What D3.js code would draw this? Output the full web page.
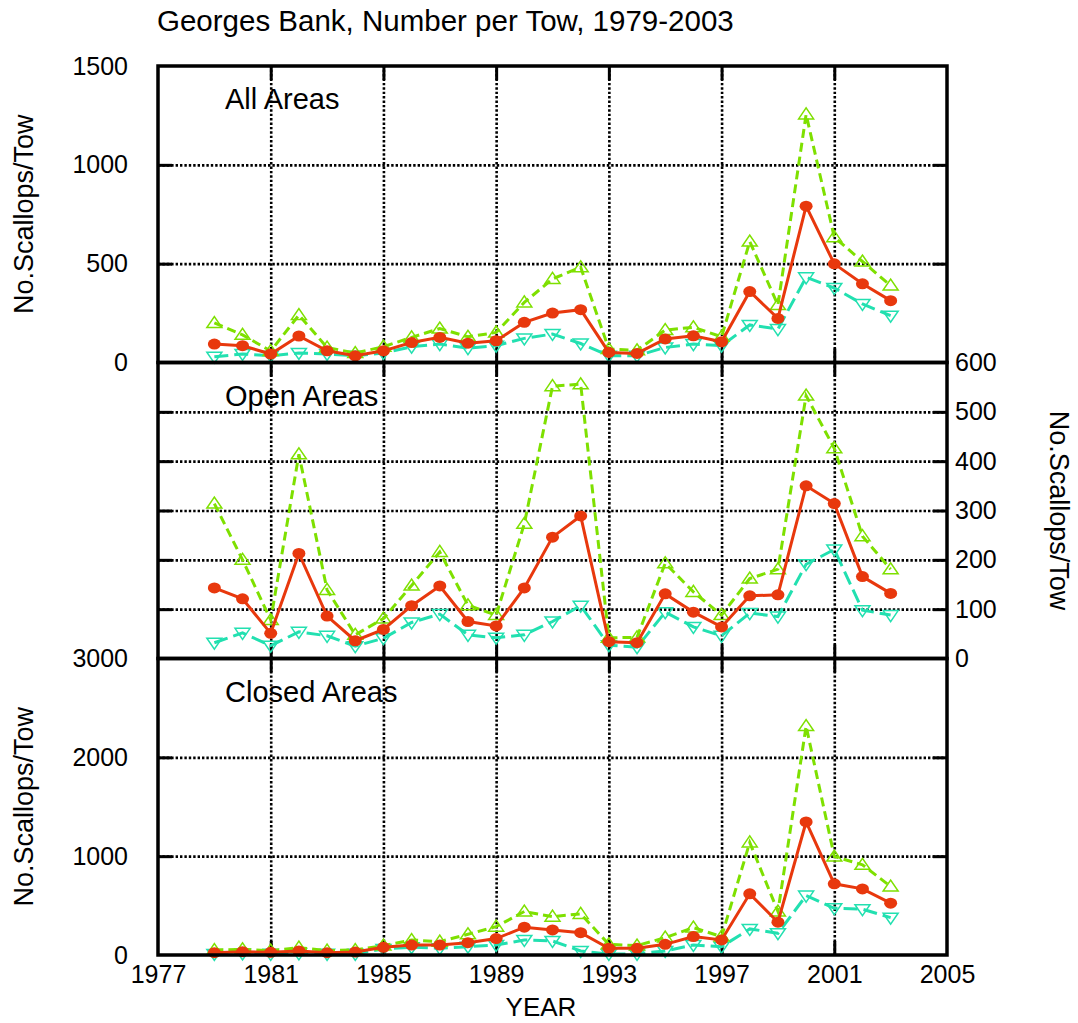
<!DOCTYPE html>
<html><head><meta charset="utf-8">
<script src="https://cdn.jsdelivr.net/npm/d3@7"></script>
<style>
body{margin:0;background:#fff;}
svg{display:block;font-family:"Liberation Sans",Arial,sans-serif;}
</style></head>
<body><svg id="c" width="1078" height="1023"></svg>
<script>
const years = [1979,1980,1981,1982,1983,1984,1985,1986,1987,1988,1989,1990,1991,1992,1993,1994,1995,1996,1997,1998,1999,2000,2001,2002,2003];
const xTicks = [1977,1981,1985,1989,1993,1997,2001,2005];

const allRed   = [93,85,43,134,59,34,59,101,127,98,110,203,250,267,51,46,119,135,105,359,223,791,499,398,313];
const allGreen = [200,140,58,240,76,48,80,127,172,130,152,304,423,482,68,62,164,178,130,612,291,1255,634,511,389];
const allCyan  = [29,43,34,48,43,34,48,80,93,73,85,122,144,96,34,34,76,93,85,190,169,431,377,296,237];

const openRed   = [143,121,51,213,86,36,59,107,147,75,66,143,246,289,34,32,131,94,64,127,129,350,314,166,132];
const openGreen = [314,200,78,414,139,48,81,148,216,108,88,273,552,556,42,43,193,135,88,162,181,533,426,248,181];
const openCyan  = [32,52,26,54,46,25,41,73,90,48,42,48,75,107,27,23,94,64,46,92,85,191,221,98,88];

const closedRed   = [24,34,27,41,24,30,78,101,101,125,166,281,254,226,68,68,108,186,152,619,332,1346,720,669,524];
const closedGreen = [51,57,44,74,44,51,95,152,135,210,287,440,388,416,108,95,176,277,186,1139,440,2316,997,913,693];
const closedCyan  = [10,15,12,17,12,12,61,78,68,84,101,152,142,41,10,12,41,101,84,264,220,601,473,463,378];

const allTicks = [0,500,1000,1500];
const openTicks = [0,100,200,300,400,500,600];
const closedTicks = [0,1000,2000,3000];

const titleText = "Georges Bank, Number per Tow, 1979-2003";
const yLabel = "No.Scallops/Tow";
const xLabel = "YEAR";

const RED="#e8380d", GREEN="#7ee000", CYAN="#22e0b0";

const svg = d3.select("#c");
const L=158, R=947;
const x = d3.scaleLinear().domain([1977,2005]).range([L,R]);

const panels = [
  {name:"All Areas", top:66, bottom:362.5, max:1500, ticks:allTicks, red:allRed, green:allGreen, cyan:allCyan, side:"left"},
  {name:"Open Areas", top:362.5, bottom:658.5, max:600, ticks:openTicks, red:openRed, green:openGreen, cyan:openCyan, side:"right"},
  {name:"Closed Areas", top:658.5, bottom:955, max:3000, ticks:closedTicks, red:closedRed, green:closedGreen, cyan:closedCyan, side:"left"}
];

svg.append("text").attr("x",157).attr("y",31).attr("font-size",29.5).text(titleText);

panels.forEach((p,i)=>{
  const y = d3.scaleLinear().domain([0,p.max]).range([p.bottom,p.top]);
  const g = svg.append("g");
  const inner = p.ticks.slice(1,-1);
  const grid = s=>s.attr("stroke","#000").attr("stroke-width",2.6).attr("stroke-dasharray","2.4,2");
  const gy = g.append("g").attr("transform",`translate(${L},0)`)
    .call(d3.axisLeft(y).tickValues(inner).tickSize(-(R-L)).tickFormat(""));
  gy.select(".domain").remove();
  gy.selectAll("line").call(grid);
  const gx = g.append("g").attr("transform",`translate(0,${p.bottom})`)
    .call(d3.axisBottom(x).tickValues(xTicks.slice(1,-1)).tickSize(-(p.bottom-p.top)).tickFormat(""));
  gx.select(".domain").remove();
  gx.selectAll("line").call(grid);
  const tk = s=>s.call(t=>t.select(".domain").remove()).selectAll("line").attr("stroke","#000").attr("stroke-width",3);
  g.append("g").attr("transform",`translate(${L},0)`).call(d3.axisLeft(y).tickValues(inner).tickSize(-14).tickFormat("")).call(tk);
  g.append("g").attr("transform",`translate(${R},0)`).call(d3.axisRight(y).tickValues(inner).tickSize(-14).tickFormat("")).call(tk);
  g.append("g").attr("transform",`translate(0,${p.bottom})`).call(d3.axisBottom(x).tickValues(xTicks.slice(1,-1)).tickSize(-14).tickFormat("")).call(tk);
  g.append("g").attr("transform",`translate(0,${p.top})`).call(d3.axisTop(x).tickValues(xTicks.slice(1,-1)).tickSize(-14).tickFormat("")).call(tk);

  let lab;
  if(p.side==="left"){
    lab = g.append("g").attr("transform",`translate(${L},0)`).call(d3.axisLeft(y).tickValues(p.ticks).tickSize(0).tickPadding(30).tickFormat(d3.format("d")));
  } else {
    lab = g.append("g").attr("transform",`translate(${R},0)`).call(d3.axisRight(y).tickValues(p.ticks).tickSize(0).tickPadding(8).tickFormat(d3.format("d")));
  }
  lab.select(".domain").remove();
  lab.selectAll("text").attr("font-size",25).attr("font-family","Liberation Sans, Arial, sans-serif").attr("fill","#000");

  const cy=(p.top+p.bottom)/2;
  if(p.side==="left"){
    svg.append("text").attr("transform",`translate(33,${cy}) rotate(-90)`).attr("text-anchor","middle").attr("font-size",27).text(yLabel);
  } else {
    svg.append("text").attr("transform",`translate(1050,${cy}) rotate(90)`).attr("text-anchor","middle").attr("font-size",27).text(yLabel);
  }

  const sg = svg.append("g");
  const line = d3.line().x((d,j)=>x(years[j])).y(d=>y(d));
  const triUp = (cx,cy)=>`M${cx-7.5},${cy+4.5}L${cx+7.5},${cy+4.5}L${cx},${cy-6.5}Z`;
  const triDn = (cx,cy)=>`M${cx-7.5},${cy-4.5}L${cx+7.5},${cy-4.5}L${cx},${cy+6.5}Z`;
  sg.append("path").datum(p.cyan).attr("d",line).attr("fill","none").attr("stroke",CYAN).attr("stroke-width",3).attr("stroke-dasharray","14,6");
  sg.selectAll(".mc").data(p.cyan).join("path").attr("d",(d,j)=>triDn(x(years[j]),y(d))).attr("fill","none").attr("stroke",CYAN).attr("stroke-width",1.5);
  sg.append("path").datum(p.green).attr("d",line).attr("fill","none").attr("stroke",GREEN).attr("stroke-width",3).attr("stroke-dasharray","9,5");
  sg.selectAll(".mg").data(p.green).join("path").attr("d",(d,j)=>triUp(x(years[j]),y(d))).attr("fill","none").attr("stroke",GREEN).attr("stroke-width",1.5);
  sg.append("path").datum(p.red).attr("d",line).attr("fill","none").attr("stroke",RED).attr("stroke-width",3);
  sg.selectAll(".mr").data(p.red).join("ellipse").attr("cx",(d,j)=>x(years[j])).attr("cy",d=>y(d)).attr("rx",6.5).attr("ry",5.5).attr("fill",RED);

  svg.append("text").attr("x",225).attr("y",p.top+43).attr("font-size",29).text(p.name);

  svg.append("rect").attr("x",L).attr("y",p.top).attr("width",R-L).attr("height",p.bottom-p.top).attr("fill","none").attr("stroke","#000").attr("stroke-width",3.5);
});

const xa = svg.append("g").attr("transform",`translate(0,955)`).call(d3.axisBottom(x).tickValues(xTicks).tickSize(0).tickPadding(10).tickFormat(d3.format("d")));
xa.select(".domain").remove();
xa.selectAll("text").attr("font-size",25).attr("font-family","Liberation Sans, Arial, sans-serif").attr("fill","#000");
svg.append("text").attr("x",541).attr("y",1016).attr("text-anchor","middle").attr("font-size",26).text(xLabel);
</script></body></html>
